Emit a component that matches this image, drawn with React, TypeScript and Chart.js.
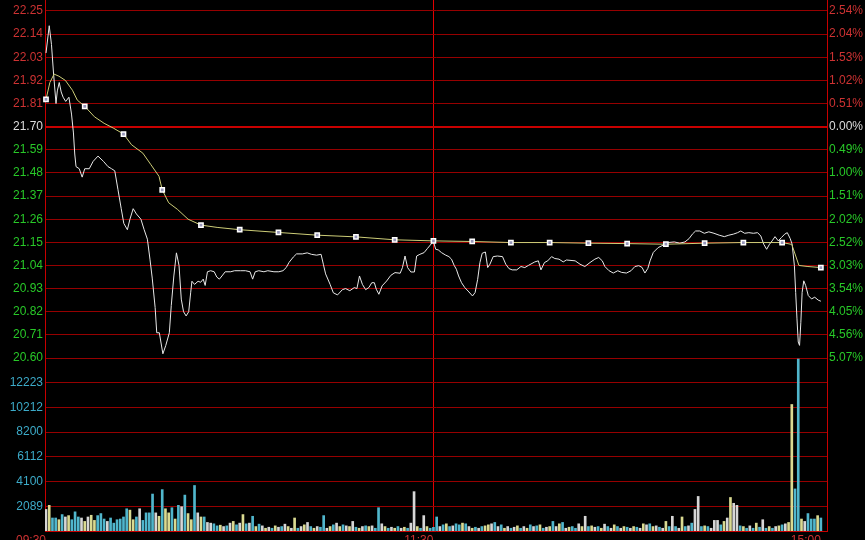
import React, { useEffect, useRef } from 'react';
import { Chart, registerables } from 'chart.js';

Chart.register(...registerables);

const prevClose = 21.7;
const priceTicks = [22.25, 22.14, 22.03, 21.92, 21.81, 21.7, 21.59, 21.48, 21.37, 21.26, 21.15, 21.04, 20.93, 20.82, 20.71, 20.6];
const pctLabels = ['2.54%', '2.04%', '1.53%', '1.02%', '0.51%', '0.00%', '0.49%', '1.00%', '1.51%', '2.02%', '2.52%', '3.03%', '3.54%', '4.05%', '4.56%', '5.07%'];
const volTickValues = [2012, 4024, 6036, 8048, 10060, 12072];
const volTickLabels = ['2089', '4100', '6112', '8200', '10212', '12223'];
const timeTickValues = [0, 120, 240];
const timeLabels = ['09:30', '11:30', '15:00'];

const priceMinutes = [
  0, 1.0, 1.7, 2.3, 3.1, 3.5, 4.1, 4.7, 5.3, 6.1, 7.1, 7.9, 8.5, 8.9, 9.3, 10.3, 11.2, 12.0, 13.4, 14.6,
  16.1, 17.8, 19.2, 20.3, 21.3, 22.3, 23.3, 24.1, 25.2, 26.0, 27.0, 28.0, 29.4, 30.4, 31.4, 32.2, 32.9, 33.8, 34.3, 35.1,
  36.2, 37.1, 38.2, 38.8, 39.6, 40.4, 41.2, 41.9, 42.6, 43.4, 44.2, 44.8, 45.2, 46.0, 47.1, 47.9, 48.7, 49.3, 50.0, 51.0,
  52.1, 52.9, 53.7, 54.5, 55.5, 57.2, 58.4, 60.2, 61.8, 63.2, 64.0, 64.8, 65.9, 67.5, 68.7, 70.6, 72.1, 73.4, 74.4, 75.3,
  76.6, 77.6, 79.4, 80.9, 82.2, 83.8, 85.2, 85.9, 86.6, 88.0, 89.0, 90.3, 91.8, 92.8, 94.1, 95.5, 96.3, 97.1, 98.0, 99.0,
  100.0, 100.9, 101.7, 102.3, 103.1, 104.1, 105.5, 106.8, 108.1, 109.7, 110.4, 111.2, 112.0, 113.0, 114.1, 114.8, 115.8, 117.1, 118.1, 120.0,
  120.7, 121.5, 122.5, 123.8, 124.8, 125.6, 126.4, 127.1, 127.8, 128.7, 129.7, 131.0, 132.1, 132.9, 133.7, 134.4, 135.1, 136.1, 136.8, 137.5,
  138.5, 139.8, 141.4, 142.4, 143.4, 144.4, 145.8, 147.1, 148.3, 149.5, 151.4, 152.5, 153.3, 154.4, 155.4, 156.6, 157.6, 158.9, 160.2, 161.2,
  163.9, 165.4, 166.9, 168.5, 170.0, 171.2, 172.3, 173.1, 174.4, 175.7, 177.1, 178.3, 179.8, 181.2, 182.4, 183.6, 184.6, 185.5, 186.4, 187.1,
  188.1, 189.6, 191.2, 192.7, 194.6, 196.3, 197.9, 199.2, 200.2, 201.2, 202.5, 203.9, 205.3, 206.9, 208.5, 210.1, 211.5, 212.9, 214.2, 215.2,
  216.4, 217.7, 219.1, 220.4, 221.4, 222.3, 223.2, 224.1, 224.9, 225.8, 226.8, 227.8, 228.8, 229.6, 230.5, 231.1, 231.8, 232.2, 232.6, 233.0,
  233.4, 233.8, 234.2, 234.7, 235.3, 236.1, 237.1, 238.1, 239.2, 240.0,
];
const priceValues = [
  22.05, 22.18, 22.09, 21.96, 21.81, 21.87, 21.91, 21.865, 21.84, 21.82, 21.84, 21.76, 21.67, 21.57, 21.51, 21.5, 21.46, 21.5, 21.5, 21.535,
  21.56, 21.535, 21.51, 21.5, 21.49, 21.4, 21.31, 21.24, 21.21, 21.26, 21.31, 21.285, 21.26, 21.21, 21.165, 21.07, 20.98, 20.84, 20.72, 20.72,
  20.62, 20.66, 20.72, 20.85, 20.99, 21.1, 21.04, 20.88, 20.82, 20.8, 20.82, 20.91, 20.965, 20.95, 20.965, 20.96, 20.975, 20.945, 21.01, 21.015,
  21.01, 20.985, 20.975, 20.99, 21.01, 21.01, 21.015, 21.015, 21.015, 21.01, 20.975, 21.01, 21.015, 21.01, 21.015, 21.01, 21.01, 21.015, 21.03, 21.055,
  21.08, 21.095, 21.095, 21.1, 21.093, 21.089, 21.093, 21.046, 21.0, 20.95, 20.91, 20.9, 20.925, 20.93, 20.92, 20.935, 20.93, 20.99, 20.95, 20.925,
  20.935, 20.958, 20.958, 20.927, 20.903, 20.943, 20.966, 20.993, 21.006, 21.003, 21.03, 21.085, 21.03, 21.009, 21.009, 21.085, 21.093, 21.101, 21.12, 21.155,
  21.117, 21.114, 21.101, 21.089, 21.082, 21.07, 21.041, 21.022, 20.99, 20.958, 20.935, 20.914, 20.895, 20.911, 20.974, 21.054, 21.098, 21.104, 21.03, 21.046,
  21.082, 21.085, 21.082, 21.046, 21.025, 21.019, 21.019, 21.035, 21.03, 21.041, 21.057, 21.062, 21.019, 21.054, 21.062, 21.082, 21.073, 21.07, 21.057, 21.066,
  21.062, 21.046, 21.035, 21.054, 21.07, 21.078, 21.062, 21.035, 21.015, 21.004, 21.015, 21.007, 21.004, 21.015, 21.035, 21.039, 21.031, 21.004, 21.026, 21.062,
  21.102, 21.125, 21.137, 21.149, 21.152, 21.146, 21.152, 21.168, 21.189, 21.204, 21.204, 21.193, 21.2, 21.193, 21.184, 21.177, 21.184, 21.189, 21.196, 21.204,
  21.193, 21.196, 21.193, 21.196, 21.18, 21.141, 21.117, 21.141, 21.157, 21.177, 21.157, 21.173, 21.189, 21.196, 21.168, 21.141, 21.039, 20.912, 20.786, 20.676,
  20.66, 20.77, 20.912, 20.967, 20.944, 20.897, 20.881, 20.889, 20.875, 20.87,
];

const avgMinutes = [0, 1.2, 2.5, 4, 6, 8.2, 9.7, 12, 15, 18, 21, 24, 26.5, 30, 32.5, 35, 36, 38, 40.7, 44, 48, 53, 60, 72, 84, 96, 108, 120, 132, 144, 156, 168, 180, 192, 204, 216, 228, 231, 233.2, 236, 240];
const avgValues = [21.83, 21.91, 21.95, 21.94, 21.92, 21.873, 21.826, 21.797, 21.747, 21.716, 21.692, 21.665, 21.614, 21.574, 21.519, 21.464, 21.4, 21.338, 21.307, 21.26, 21.232, 21.221, 21.21, 21.197, 21.184, 21.176, 21.162, 21.157, 21.154, 21.149, 21.149, 21.146, 21.144, 21.141, 21.146, 21.149, 21.149, 21.14, 21.04, 21.035, 21.03];

const volumes = [
  1755, 2089, 1058, 1058, 919, 1337, 1142, 1253, 919, 1560,
  1142, 1058, 780, 1142, 1281, 863, 1253, 1420, 975, 780,
  1058, 641, 919, 975, 1142, 1810, 1699, 919, 1142, 1810,
  863, 1476, 1476, 3008, 1476, 1198, 3370, 1810, 1476, 1894,
  975, 2089, 1977, 2924, 1420, 919, 3704, 1476, 1142, 1142,
  696, 641, 585, 418, 473, 362, 418, 641, 780, 501,
  641, 1337, 585, 641, 1198, 362, 557, 418, 223, 306,
  223, 418, 306, 362, 557, 362, 223, 1058, 223, 362,
  501, 696, 362, 223, 362, 306, 1253, 223, 362, 501,
  641, 362, 501, 418, 362, 780, 306, 223, 362, 418,
  362, 418, 223, 1894, 585, 362, 223, 306, 223, 362,
  223, 306, 223, 641, 3203, 362, 223, 1253, 362, 223,
  300,
  1142, 362, 501, 585, 362, 418, 585, 501, 641, 585,
  362, 223, 306, 223, 362, 418, 501, 585, 696, 362,
  501, 223, 362, 223, 306, 418, 223, 362, 223, 501,
  362, 418, 501, 223, 306, 362, 780, 362, 585, 696,
  223, 306, 362, 223, 585, 362, 1198, 362, 418, 306,
  362, 223, 557, 362, 223, 501, 362, 223, 362, 306,
  223, 362, 306, 223, 585, 501, 585, 362, 418, 306,
  223, 780, 362, 1198, 362, 223, 1142, 362, 418, 641,
  1755, 2813, 362, 418, 362, 223, 863, 863, 501, 780,
  1058, 2729, 2256, 2089, 418, 362, 223, 418, 223, 641,
  306, 919, 223, 362, 223, 362, 418, 501, 585, 696,
  10300, 3425, 14000, 975, 780, 1420, 975, 975, 1250, 1060,
];
const volColorCodes = (
  'wyccycwycc' + 'cwywyycccw' + 'ccccccyycw' + 'ccccwycyyc' + 'ycwcyycwyc' +
  'wwccywcwyc' + 'wycwcycwyw' + 'cywcwywycw' + 'ywcywccwyc' + 'wycwywcywc' + 'ywccwycwyc' + 'wycwwycwyc' +
  'c' +
  'cwcycwccyc' + 'wycwcyywcw' + 'cywcwycwyc' + 'wcycwycwyc' + 'wyccwywcyw' + 'cywcwycwyc' +
  'wycwywcywc' + 'wycwcwycwc' + 'wwcycwwwcy' + 'wywwcycwcy' + 'cwcycwycwy' +
  'yccywcccyc'
).split('');

const COLORS = {
  bg: '#000000',
  grid: 'rgb(150,0,0)',
  gridMain: 'rgb(200,0,0)',
  border: 'rgb(200,0,0)',
  vline: 'rgb(225,0,0)',
  red: 'rgb(205,50,50)',
  green: 'rgb(40,200,40)',
  white: 'rgb(220,220,220)',
  cyan: 'rgb(60,170,200)',
  price: 'rgb(232,232,232)',
  avg: 'rgb(205,205,120)',
  volC: 'rgb(80,182,204)',
  volY: 'rgb(218,218,145)',
  volW: 'rgb(214,214,214)',
};

const isPrev = (v: number) => Math.abs(v - prevClose) < 1e-6;
const labelColor = (v: number) => (isPrev(v) ? COLORS.white : v > prevClose ? COLORS.red : COLORS.green);

const pxPerStep = 347 / 15;
const priceMax = 22.25 + (11 * 0.11) / pxPerStep;
const priceMin = 20.6;
const volMax = 7 * 2012;

const noPad = (scale: any) => {
  scale.paddingTop = 0;
  scale.paddingBottom = 0;
  scale.paddingLeft = 0;
  scale.paddingRight = 0;
};

export default function App() {
  const ref = useRef<HTMLCanvasElement>(null);

  useEffect(() => {
    document.body.style.background = '#000';
    const canvas = ref.current;
    if (!canvas) return;
    Chart.defaults.font.family = "'Liberation Sans', Arial, sans-serif";
    Chart.defaults.font.size = 12;

    const codeColor = (c: string) => (c === 'c' ? COLORS.volC : c === 'y' ? COLORS.volY : COLORS.volW);

    const chart = new Chart(canvas, {
      type: 'bar',
      data: {
        datasets: [
          {
            type: 'line',
            label: 'avg',
            data: avgMinutes.map((m, i) => ({ x: m, y: avgValues[i] })),
            xAxisID: 'x',
            yAxisID: 'yP',
            borderColor: COLORS.avg,
            borderWidth: 1,
            tension: 0,
            clip: false,
            pointStyle: 'rect',
            pointRadius: (ctx: any) => {
              const x = ctx.raw && ctx.raw.x;
              return Number.isInteger(x) && x % 12 === 0 ? 3 : 0;
            },
            pointBackgroundColor: 'rgb(150,150,185)',
            pointBorderColor: '#ffffff',
            pointBorderWidth: 1.5,
          } as any,
          {
            type: 'line',
            label: 'price',
            data: priceMinutes.map((m, i) => ({ x: m, y: priceValues[i] })),
            xAxisID: 'x',
            yAxisID: 'yP',
            borderColor: COLORS.price,
            borderWidth: 1,
            tension: 0,
            pointRadius: 0,
            clip: false,
          } as any,
          {
            type: 'bar',
            label: 'volume',
            data: volumes.map((v, i) => ({ x: i, y: v })),
            xAxisID: 'x',
            yAxisID: 'yV',
            backgroundColor: volColorCodes.map(codeColor),
            barThickness: 2,
          } as any,
        ],
      },
      options: {
        animation: false,
        responsive: false,
        maintainAspectRatio: false,
        events: [],
        layout: { padding: 0, autoPadding: false },
        plugins: { legend: { display: false }, tooltip: { enabled: false } },
        scales: {
          x: {
            type: 'linear',
            position: 'bottom',
            offset: false,
            min: -0.31,
            max: 241.9,
            afterBuildTicks: (axis: any) => {
              axis.ticks = timeTickValues.map((v) => ({ value: v }));
            },
            afterFit: (scale: any) => {
              scale.height = 9;
              noPad(scale);
            },
            ticks: {
              autoSkip: false,
              maxRotation: 0,
              align: 'end',
              padding: 2,
              color: COLORS.red,
              font: { size: 12 },
              callback: (_v: any, i: number) => timeLabels[i],
            },
            grid: {
              offset: false,
              drawTicks: false,
              color: (ctx: any) => (ctx.tick && ctx.tick.value === 120 ? COLORS.vline : 'rgba(0,0,0,0)'),
              lineWidth: 1,
            },
            border: { display: true, color: COLORS.border, width: 1 },
          },
          yP: {
            type: 'linear',
            position: 'left',
            stack: 'L',
            stackWeight: 358,
            weight: 2,
            min: priceMin,
            max: priceMax,
            afterBuildTicks: (axis: any) => {
              axis.ticks = priceTicks.map((v) => ({ value: v }));
            },
            afterFit: (scale: any) => {
              scale.width = 45;
              noPad(scale);
            },
            ticks: {
              autoSkip: false,
              padding: 2,
              color: (ctx: any) => labelColor(ctx.tick.value),
              callback: (v: any) => Number(v).toFixed(2),
            },
            grid: {
              drawTicks: false,
              color: (ctx: any) => (ctx.tick && isPrev(ctx.tick.value) ? COLORS.gridMain : COLORS.grid),
              lineWidth: (ctx: any) => (ctx.tick && isPrev(ctx.tick.value) ? 2 : 1),
            },
            border: { display: true, color: COLORS.border, width: 1 },
          },
          yV: {
            type: 'linear',
            position: 'left',
            stack: 'L',
            stackWeight: 173,
            weight: 1,
            min: 0,
            max: volMax,
            afterBuildTicks: (axis: any) => {
              axis.ticks = volTickValues.map((v) => ({ value: v }));
            },
            afterFit: (scale: any) => {
              scale.width = 45;
              noPad(scale);
            },
            ticks: {
              autoSkip: false,
              padding: 2,
              color: COLORS.cyan,
              callback: (_v: any, i: number) => volTickLabels[i],
            },
            grid: { drawTicks: false, color: COLORS.grid, lineWidth: 1 },
            border: { display: true, color: COLORS.border, width: 1 },
          },
          yR: {
            type: 'linear',
            position: 'right',
            stack: 'R',
            stackWeight: 358,
            weight: 1,
            min: priceMin,
            max: priceMax,
            afterBuildTicks: (axis: any) => {
              axis.ticks = priceTicks.map((v) => ({ value: v }));
            },
            afterFit: (scale: any) => {
              scale.width = 38;
              noPad(scale);
            },
            ticks: {
              autoSkip: false,
              padding: 2,
              color: (ctx: any) => labelColor(ctx.tick.value),
              callback: (_v: any, i: number) => pctLabels[i],
            },
            grid: { display: false, drawTicks: false },
            border: { display: true, color: COLORS.border, width: 1 },
          },
          yRV: {
            type: 'linear',
            position: 'right',
            stack: 'R',
            stackWeight: 173,
            weight: 2,
            min: 0,
            max: volMax,
            afterFit: (scale: any) => {
              scale.width = 38;
              noPad(scale);
            },
            ticks: { display: false },
            grid: { display: false, drawTicks: false },
            border: { display: true, color: COLORS.border, width: 1 },
          },
        },
      } as any,
    });

    return () => chart.destroy();
  }, []);

  return (
    <div style={{ position: 'absolute', left: 0, top: 0, width: 865, height: 540, background: COLORS.bg, overflow: 'hidden' }}>
      <canvas ref={ref} width={865} height={540} style={{ display: 'block', width: 865, height: 540 }} />
    </div>
  );
}
